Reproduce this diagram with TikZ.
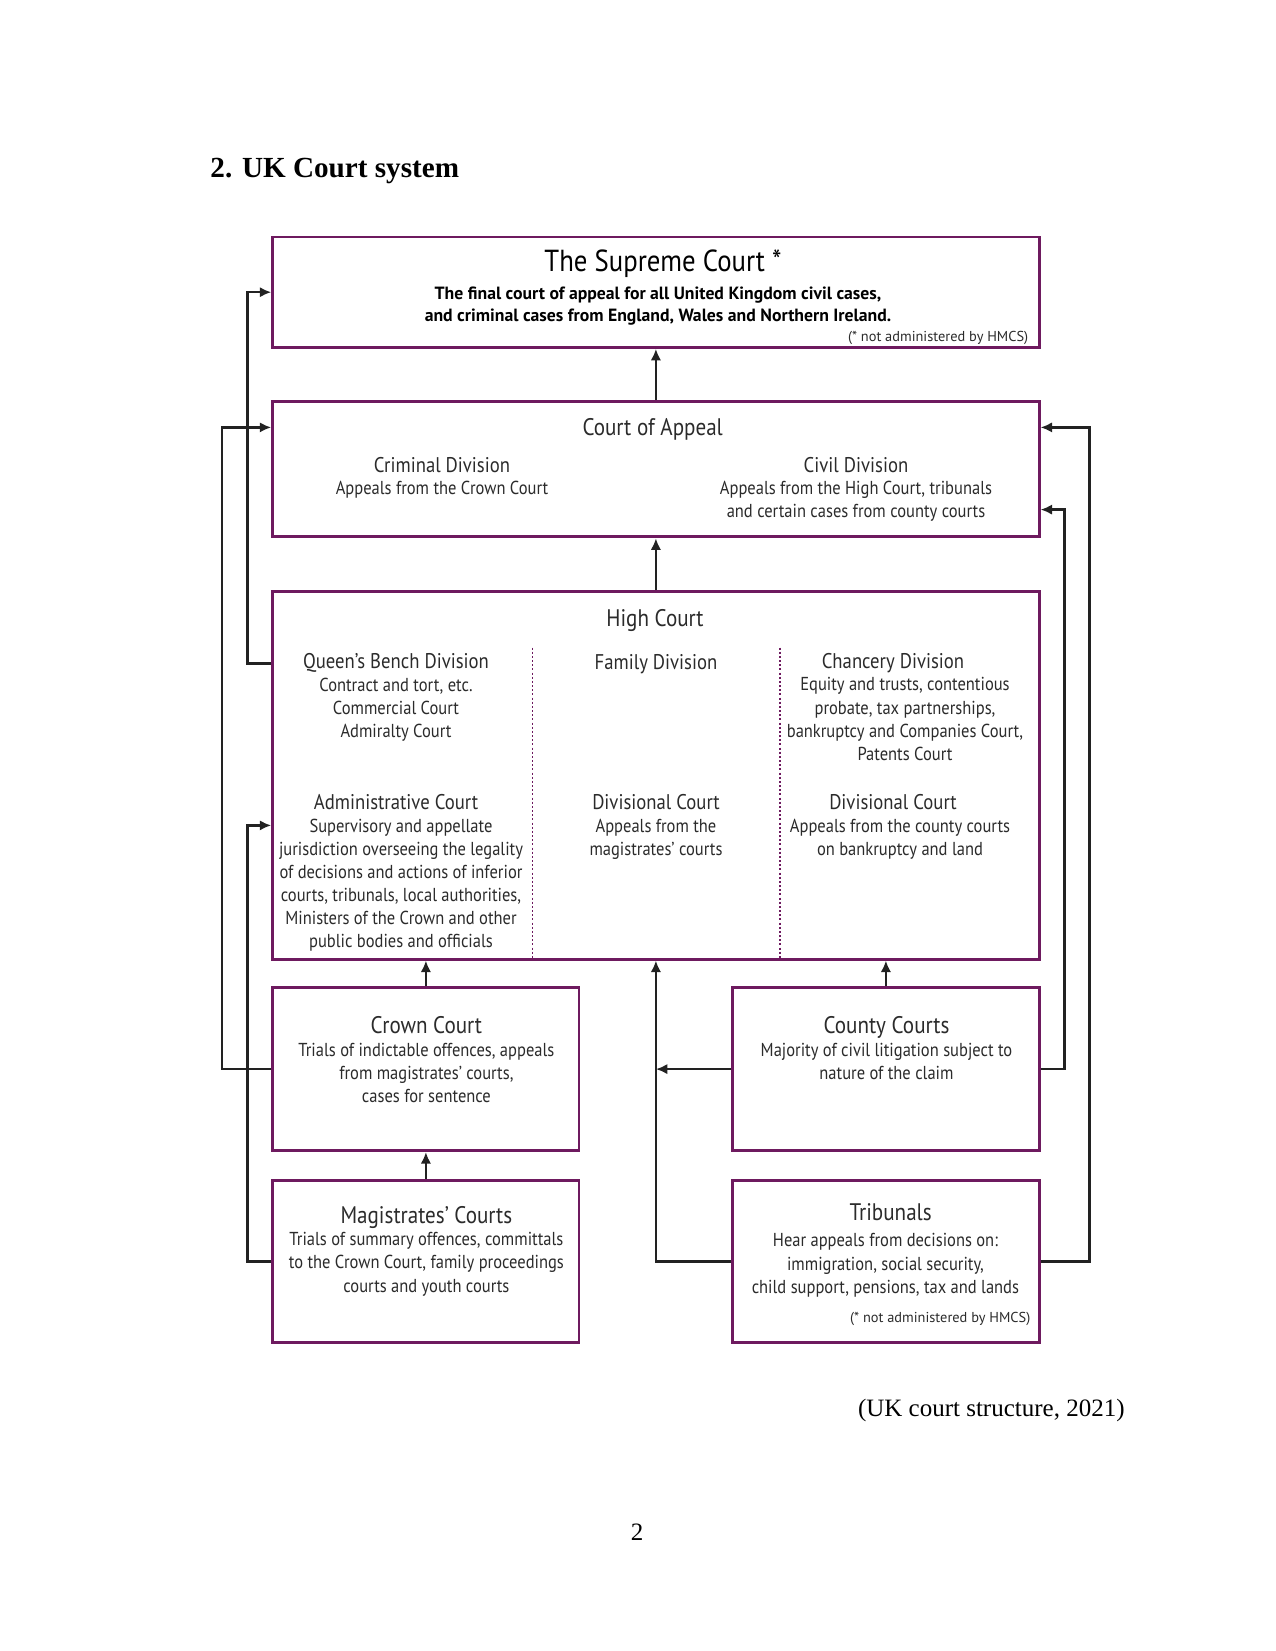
\documentclass[tikz,border=0pt]{standalone}
\usepackage{fontspec}
\setmainfont{Liberation Serif}
\newfontfamily\gs[FakeStretch=0.88]{PT Sans}
\newfontfamily\gsw{PT Sans}
\usetikzlibrary{arrows.meta}
\definecolor{court}{HTML}{6E1A5F}
\definecolor{ink}{HTML}{222222}
\definecolor{txt}{HTML}{2B2B2B}
\tikzset{
  box/.style={draw=court, line width=1.4pt, minimum width=367.9pt, inner sep=0pt},
  smallbox/.style={draw=court, line width=1.4pt, minimum width=147pt, inner sep=0pt},
  conn/.style={draw=ink, line width=1.2pt, -{Latex[length=5.5pt,width=5pt]}},
  body/.style={font=\gs\fontsize{9}{11.1}\selectfont, text=txt, align=center, inner sep=0pt, anchor=north},
  head/.style={font=\gs\fontsize{11.5}{13}\selectfont, text=txt, align=center, inner sep=0pt, anchor=north},
  headtwo/.style={font=\gs\fontsize{10.2}{12}\selectfont, text=txt, align=center, inner sep=0pt, anchor=north},
  shead/.style={font=\gs\fontsize{14.6}{16}\selectfont, text=black, align=center, inner sep=0pt, anchor=north},
  sbody/.style={font=\gsw\bfseries\fontsize{8.5}{11}\selectfont, text=black, align=center, inner sep=0pt, anchor=north},
  tinytext/.style={font=\gsw\fontsize{6.9}{8}\selectfont, text=txt, inner sep=0pt, anchor=north east},
  divider/.style={draw=court, line width=0.6pt, dash pattern=on 1pt off 1pt}
}
\begin{document}
\begin{tikzpicture}[x=0.48pt,y=-0.48pt]
\useasboundingbox[fill=white] (0,0) rectangle (1275,1651);

% page text
\node[font=\fontsize{14}{16}\selectfont\bfseries, anchor=west, inner sep=0pt] (title) at (210,171) {2. UK Court system};
\node[font=\fontsize{12}{14}\selectfont, anchor=east, inner sep=0pt] (cite) at (1125,1410) {(UK court structure, 2021)};
\node[font=\fontsize{12}{14}\selectfont, inner sep=0pt] (pg) at (637,1532) {2};

% boxes
\node[box, minimum height=53pt] (sup) at (655.9,292.2) {};
\node[box, minimum height=65.2pt] (coa) at (655.9,469) {};
\node[box, minimum height=176.4pt] (hc) at (655.9,775.4) {};
\node[smallbox, minimum height=78.3pt] (crown) at (425.9,1069.1) {};
\node[smallbox, minimum height=78.3pt] (county) at (885.9,1069.1) {};
\node[smallbox, minimum height=77.8pt] (mag) at (425.9,1261.3) {};
\node[smallbox, minimum height=77.8pt] (trib) at (885.9,1261.3) {};

% dividers in High Court
\draw[divider] (532.7,647.5) -- (532.7,959.1);
\draw[divider] (780.1,647.5) -- (780.1,959.1);

% lanes
\coordinate (laneA) at (247.4,0);
\coordinate (laneB) at (222.1,0);
\coordinate (laneRone) at (1064.4,0);
\coordinate (laneRtwo) at (1089.6,0);
\coordinate (mid) at (655.9,0);

% connectors
\draw[conn] (coa.north) -- (sup.south);
\draw[conn] (hc.north) -- (coa.south);
\draw[conn] (crown.north) -- (crown.north |- hc.south);
\draw[conn] (county.north) -- (county.north |- hc.south);
\draw[conn] (mag.north) -- (crown.south);
\draw[conn] (hc.west |- 0,663.3) -- (laneA |- 0,663.3) |- (sup.west);
\draw[conn] (crown.west) -- (laneB |- crown.west) |- (coa.west |- 0,427.4);
\draw[conn] (mag.west) -- (laneA |- mag.west) |- (hc.west |- 0,825.4);
\draw[conn] (county.west) -- (mid |- county.west);
\draw[conn] (trib.west) -| (hc.south);
\draw[conn] (county.east) -- (laneRone |- county.east) |- (coa.east |- 0,509.6);
\draw[conn] (trib.east) -- (laneRtwo |- trib.east) |- (coa.east |- 0,427.4);

% Supreme Court text
\node[shead] (supT) at (663,249) {The Supreme Court *};
\node[sbody] (supS) at (658,286) {The final court of appeal for all United Kingdom civil cases,\\and criminal cases from England, Wales and Northern Ireland.};
\node[tinytext] (supN) at (1028.6,331) {(* not administered by HMCS)};

% Court of Appeal text
\node[head] (coaT) at (652.7,418) {Court of Appeal};
\node[headtwo] (crimT) at (442,457) {Criminal Division};
\node[body] (crimB) at (442,480.4) {Appeals from the Crown Court};
\node[headtwo] (civT) at (856,457) {Civil Division};
\node[body] (civB) at (856,480.4) {Appeals from the High Court, tribunals\\and certain cases from county courts};

% High Court text
\node[head] (hcT) at (655,609) {High Court};
\node[headtwo] (qbT) at (396,653) {Queen’s Bench Division};
\node[body] (qbB) at (396,677.3) {Contract and tort, etc.\\Commercial Court\\Admiralty Court};
\node[headtwo] (famT) at (656,654) {Family Division};
\node[headtwo] (chT) at (893,653) {Chancery Division};
\node[body] (chB) at (905,677.3) {Equity and trusts, contentious\\probate, tax partnerships,\\bankruptcy and Companies Court,\\Patents Court};
\node[headtwo] (adT) at (396,794) {Administrative Court};
\node[body] (adB) at (401,818.4) {Supervisory and appellate\\jurisdiction overseeing the legality\\of decisions and actions of inferior\\courts, tribunals, local authorities,\\Ministers of the Crown and other\\public bodies and officials};
\node[headtwo] (dcoT) at (656,794) {Divisional Court};
\node[body] (dcoB) at (656,818.4) {Appeals from the\\magistrates’ courts};
\node[headtwo] (dctT) at (893,794) {Divisional Court};
\node[body] (dctB) at (900,818.4) {Appeals from the county courts\\on bankruptcy and land};

% Lower courts text
\node[head] (crT) at (426.4,1016) {Crown Court};
\node[body] (crB) at (426.4,1042.6) {Trials of indictable offences, appeals\\from magistrates’ courts,\\cases for sentence};
\node[head] (cuT) at (886.5,1016) {County Courts};
\node[body] (cuB) at (886.5,1042.6) {Majority of civil litigation subject to\\nature of the claim};
\node[head] (mgT) at (426.4,1206) {Magistrates’ Courts};
\node[body] (mgB) at (426.4,1232.1) {Trials of summary offences, committals\\to the Crown Court, family proceedings\\courts and youth courts};
\node[head] (trT) at (890.7,1203) {Tribunals};
\node[body] (trB) at (885.4,1233.2) {Hear appeals from decisions on:\\immigration, social security,\\child support, pensions, tax and lands};
\node[tinytext] (trN) at (1030.7,1312) {(* not administered by HMCS)};
\end{tikzpicture}
\end{document}
